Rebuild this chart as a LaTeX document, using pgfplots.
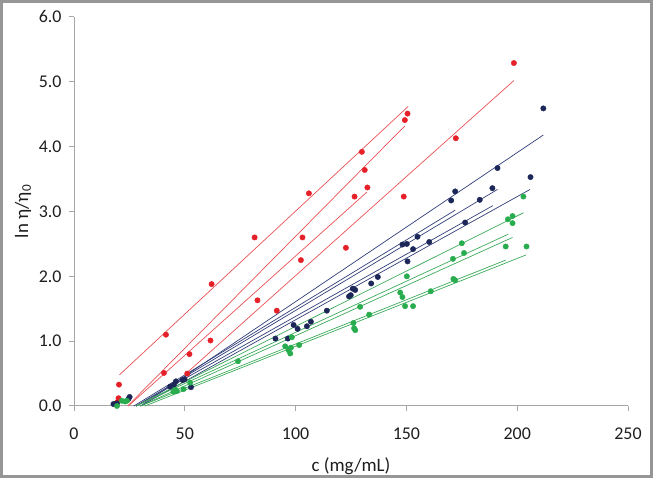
\documentclass[border=0pt]{standalone}
\usepackage{fontspec}
\setmainfont{Carlito}
\usepackage{pgfplots}
\pgfplotsset{compat=1.18}
\definecolor{redpt}{RGB}{229,32,40}
\definecolor{redln}{RGB}{232,80,85}
\definecolor{bluept}{RGB}{28,38,88}
\definecolor{blueln}{RGB}{50,62,120}
\definecolor{greenpt}{RGB}{40,172,78}
\definecolor{greenln}{RGB}{60,170,90}
\definecolor{axgray}{RGB}{166,166,166}
\definecolor{framegray}{RGB}{150,150,150}
\definecolor{txt}{RGB}{30,30,30}
\begin{document}
\begin{tikzpicture}[x=1bp,y=1bp]
\path[use as bounding box] (0,0) rectangle (653,478);
\draw[framegray, line width=3bp] (1.5,1.5) rectangle (651.5,476.5);
\begin{axis}[
  at={(74bp,72bp)}, anchor=south west,
  scale only axis, width=554bp, height=389bp,
  xmin=0, xmax=250, ymin=0, ymax=6,
  axis x line*=bottom, axis y line*=left,
  axis line style={axgray, line width=1bp, -},
  xtick={0,50,...,250}, ytick={0,1,...,6},
  tick align=outside, major tick length=5bp,
  tick style={axgray, line width=1bp},
  /pgf/number format/assume math mode=true,
  tick label style={font=\fontsize{18}{21}\selectfont, text=txt},
  xticklabel style={yshift=-13bp},
  yticklabel style={xshift=-4bp},
  y tick label style={/pgf/number format/.cd, fixed, fixed zerofill, precision=1, /tikz/.cd},
  xlabel={c (mg/mL)}, ylabel={ln η/η\textsubscript{0}},
  label style={font=\fontsize{19}{22}\selectfont, text=txt},
  xlabel style={at={(axis description cs:0.5,-0.154)}, anchor=center},
  ylabel style={at={(axis description cs:-0.092,0.5)}, anchor=center},
  clip=false,
]
% red data
\addplot[only marks, mark=*, mark size=2.7bp, redpt] coordinates {
(18.8,0.03)(20.1,0.12)(20.3,0.33)(19.5,0.06)(40.6,0.51)(41.5,1.10)(51.1,0.50)(52.1,0.80)
(61.6,1.01)(62.1,1.88)(81.5,2.60)(82.8,1.63)(91.5,1.47)(102.4,2.25)(103.1,2.60)(106.0,3.28)
(122.7,2.44)(126.6,3.23)(129.9,3.92)(131.2,3.64)(132.4,3.37)(148.8,3.23)(149.3,4.41)(150.5,4.51)
(172.3,4.13)(198.5,5.29)};
% blue data
\addplot[only marks, mark=*, mark size=2.7bp, bluept] coordinates {
(17.8,0.03)(19.4,0.04)(24.6,0.11)(25.1,0.14)(43.4,0.30)(45.1,0.33)(46.0,0.38)(49.0,0.40)
(49.9,0.41)(52.8,0.29)(90.9,1.04)(96.5,1.04)(99.1,1.25)(100.9,1.19)(105.1,1.23)(106.9,1.30)
(114.1,1.47)(124.1,1.69)(124.9,1.71)(125.8,1.81)(126.9,1.79)(134.1,1.89)(137.1,1.99)(148.2,2.49)
(150.2,2.50)(150.5,2.23)(153.0,2.42)(155.0,2.61)(160.3,2.53)(170.2,3.17)(172.0,3.31)(176.5,2.83)
(183.1,3.18)(188.8,3.36)(191.1,3.67)(206.0,3.53)(211.8,4.59)};
% green data
\addplot[only marks, mark=*, mark size=2.7bp, greenpt] coordinates {
(19.4,0.00)(21.6,0.08)(23.9,0.08)(23.1,0.07)(44.9,0.22)(45.7,0.25)(46.4,0.23)(49.4,0.26)
(52.4,0.36)(74.0,0.69)(95.3,0.92)(96.8,0.86)(97.6,0.81)(97.9,0.90)(98.3,1.06)(101.6,0.94)
(126.1,1.28)(126.4,1.20)(126.9,1.17)(129.1,1.53)(133.2,1.41)(147.2,1.75)(148.2,1.68)(149.4,1.54)
(150.2,2.00)(153.0,1.54)(161.0,1.77)(171.0,2.27)(171.2,1.96)(172.0,1.94)(175.0,2.51)(176.0,2.36)
(194.8,2.46)(195.8,2.88)(197.9,2.93)(197.9,2.82)(202.8,3.23)(204.2,2.46)};
% red trend lines
\addplot[redln, line width=0.7bp, no marks] coordinates {(20.5,0.48)(150.8,4.62)};
\addplot[redln, line width=0.7bp, no marks] coordinates {(24.2,0.0)(149.3,4.32)};
\addplot[redln, line width=0.7bp, no marks] coordinates {(24.5,0.0)(132.2,3.30)};
\addplot[redln, line width=0.7bp, no marks] coordinates {(51.2,0.52)(198.5,5.02)};
% blue trend lines
\addplot[blueln, line width=0.7bp, no marks] coordinates {(30,0)(211.8,4.18)};
\addplot[blueln, line width=0.7bp, no marks] coordinates {(28,0)(191.1,3.34)};
\addplot[blueln, line width=0.7bp, no marks] coordinates {(28,0)(189.0,3.09)};
\addplot[blueln, line width=0.7bp, no marks] coordinates {(30,0)(205.8,3.34)};
\addplot[blueln, line width=0.7bp, no marks] coordinates {(27,0)(172.0,3.02)};
% green trend lines
\addplot[greenln, line width=0.7bp, no marks] coordinates {(28,0)(202.8,2.98)};
\addplot[greenln, line width=0.7bp, no marks] coordinates {(28,0)(196.0,2.65)};
\addplot[greenln, line width=0.7bp, no marks] coordinates {(30,0)(197.9,2.60)};
\addplot[greenln, line width=0.7bp, no marks] coordinates {(30,0)(194.8,2.25)};
\addplot[greenln, line width=0.7bp, no marks] coordinates {(32,0)(204.0,2.33)};
\end{axis}
\end{tikzpicture}
\end{document}
